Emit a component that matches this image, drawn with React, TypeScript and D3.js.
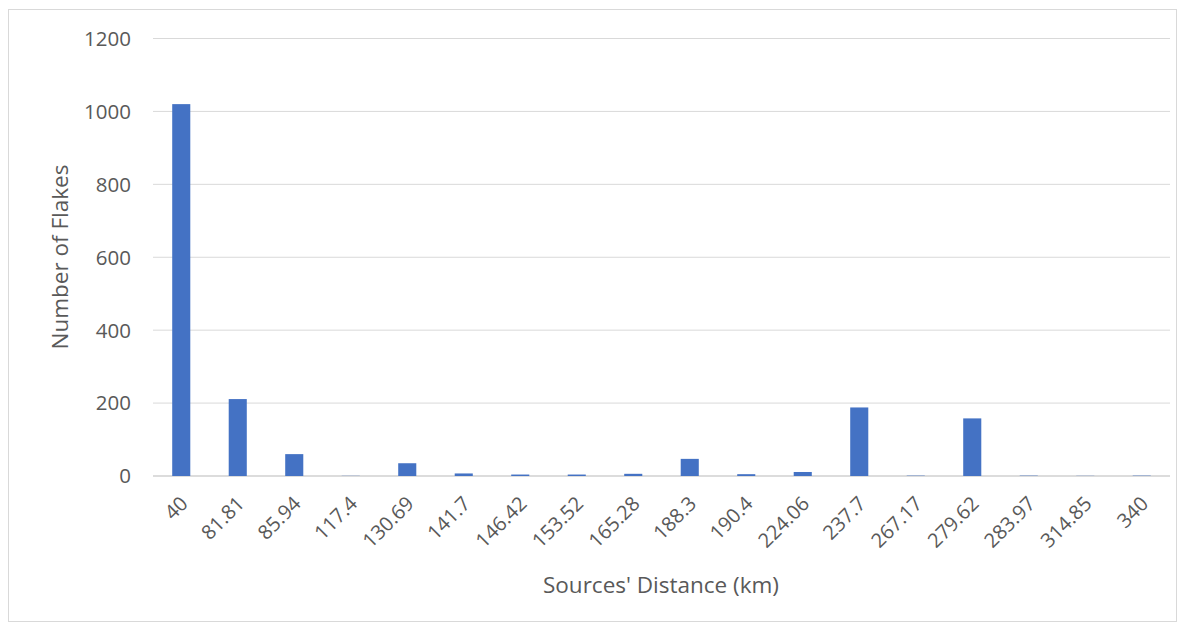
import React from "react";
import * as d3 from "d3";

const categories = ["40","81.81","85.94","117.4","130.69","141.7","146.42","153.52","165.28","188.3","190.4","224.06","237.7","267.17","279.62","283.97","314.85","340"];
const values = [1020, 211, 60, 0.5, 35, 7, 4, 4, 6, 47, 5, 11, 188, 1, 158, 1, 0.5, 1];
const yTicks = [0, 200, 400, 600, 800, 1000, 1200];

export default function App() {
  const W = 1185, H = 628;
  const left = 153, right = 1170, top = 38.5, bottom = 476;
  const x = d3.scaleBand().domain(categories).range([left, right]).paddingInner(0.68).paddingOuter(0.34);
  const y = d3.scaleLinear().domain([0, 1200]).range([bottom, top]);
  const font = "Open Sans, Liberation Sans, sans-serif";
  return (
    <svg width={W} height={H} style={{ position: "absolute", left: 0, top: 0 }}>
      <rect x={0} y={0} width={W} height={H} fill="#fff" />
      <rect x={8.5} y={9.5} width={1168} height={612} fill="#fff" stroke="#d9d9d9" />
      {yTicks.map(t => (
        <g key={t}>
          <line x1={left} x2={right} y1={y(t)} y2={y(t)} stroke={t === 0 ? "#d0d0d0" : "#d9d9d9"} strokeWidth={t === 0 ? 1.5 : 1} />
          <text x={131} y={y(t)} dy="0.36em" textAnchor="end" fontFamily={font} fontSize={20.5} fill="#595959">{t}</text>
        </g>
      ))}
      {categories.map((c, i) => (
        <rect key={c} x={x(c)} y={y(values[i])} width={x.bandwidth()} height={bottom - y(values[i])} fill="#4472c4" />
      ))}
      {categories.map(c => {
        const cx = (x(c) as number) + x.bandwidth() / 2;
        return (
          <text key={c} transform={`translate(${cx + 3},${bottom + 24}) rotate(-45)`} textAnchor="end" dy="0.35em" fontFamily={font} fontSize={20} fill="#595959">{c}</text>
        );
      })}
      <text transform={`translate(60,257) rotate(-90)`} textAnchor="middle" dy="0.35em" fontFamily={font} fontSize={22.5} fill="#595959">Number of Flakes</text>
      <text x={661} y={585} textAnchor="middle" dy="0.35em" fontFamily={font} fontSize={22.5} fill="#595959">Sources' Distance (km)</text>
    </svg>
  );
}
